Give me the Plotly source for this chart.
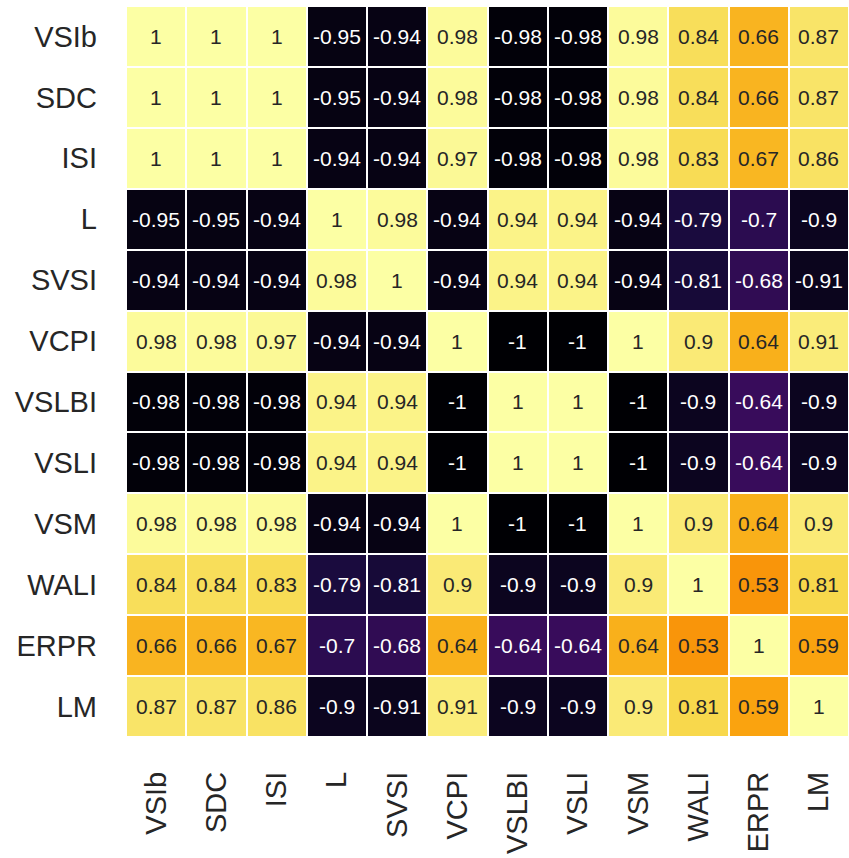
import plotly.graph_objects as go
from plotly.colors import sample_colorscale, unlabel_rgb

labels = ["VSIb", "SDC", "ISI", "L", "SVSI", "VCPI", "VSLBI", "VSLI", "VSM", "WALI", "ERPR", "LM"]

row_VSIb = [1, 1, 1, -0.95, -0.94, 0.98, -0.98, -0.98, 0.98, 0.84, 0.66, 0.87]
row_SDC = [1, 1, 1, -0.95, -0.94, 0.98, -0.98, -0.98, 0.98, 0.84, 0.66, 0.87]
row_ISI = [1, 1, 1, -0.94, -0.94, 0.97, -0.98, -0.98, 0.98, 0.83, 0.67, 0.86]
row_L = [-0.95, -0.95, -0.94, 1, 0.98, -0.94, 0.94, 0.94, -0.94, -0.79, -0.7, -0.9]
row_SVSI = [-0.94, -0.94, -0.94, 0.98, 1, -0.94, 0.94, 0.94, -0.94, -0.81, -0.68, -0.91]
row_VCPI = [0.98, 0.98, 0.97, -0.94, -0.94, 1, -1, -1, 1, 0.9, 0.64, 0.91]
row_VSLBI = [-0.98, -0.98, -0.98, 0.94, 0.94, -1, 1, 1, -1, -0.9, -0.64, -0.9]
row_VSLI = [-0.98, -0.98, -0.98, 0.94, 0.94, -1, 1, 1, -1, -0.9, -0.64, -0.9]
row_VSM = [0.98, 0.98, 0.98, -0.94, -0.94, 1, -1, -1, 1, 0.9, 0.64, 0.9]
row_WALI = [0.84, 0.84, 0.83, -0.79, -0.81, 0.9, -0.9, -0.9, 0.9, 1, 0.53, 0.81]
row_ERPR = [0.66, 0.66, 0.67, -0.7, -0.68, 0.64, -0.64, -0.64, 0.64, 0.53, 1, 0.59]
row_LM = [0.87, 0.87, 0.86, -0.9, -0.91, 0.91, -0.9, -0.9, 0.9, 0.81, 0.59, 1]

corr = [row_VSIb, row_SDC, row_ISI, row_L, row_SVSI, row_VCPI,
        row_VSLBI, row_VSLI, row_VSM, row_WALI, row_ERPR, row_LM]

ZMIN, ZMAX = -1, 1
FONT = "Liberation Sans, Arial, sans-serif"
DARK_TEXT = "#262626"


def text_color(v):
    """White text on dark cells, dark grey on light cells (by luminance)."""
    t = (v - ZMIN) / (ZMAX - ZMIN)
    rgb = sample_colorscale("Inferno", [t])[0]
    r, g, b = [c / 255 for c in unlabel_rgb(rgb)]

    def lin(c):
        return c / 12.92 if c <= 0.03928 else ((c + 0.055) / 1.055) ** 2.4

    lum = 0.2126 * lin(r) + 0.7152 * lin(g) + 0.0722 * lin(b)
    return "white" if lum <= 0.408 else DARK_TEXT


fig = go.Figure(
    go.Heatmap(
        z=corr,
        x=labels,
        y=labels,
        colorscale="Inferno",
        zmin=ZMIN,
        zmax=ZMAX,
        xgap=2,
        ygap=2,
        showscale=False,
        hoverongaps=False,
    )
)

annotations = []
for i, rname in enumerate(labels):
    for j, cname in enumerate(labels):
        v = corr[i][j]
        annotations.append(
            dict(
                x=cname,
                y=rname,
                text=format(v, ".2g"),
                showarrow=False,
                font=dict(family=FONT, size=21, color=text_color(v)),
            )
        )

fig.update_layout(
    width=849,
    height=858,
    margin=dict(l=126, r=0, t=6, b=121),
    paper_bgcolor="white",
    plot_bgcolor="white",
    annotations=annotations,
    font=dict(family=FONT, color=DARK_TEXT),
)
fig.update_xaxes(
    type="category",
    tickangle=-90,
    tickfont=dict(size=29, family=FONT, color=DARK_TEXT),
    ticklabelstandoff=28,
    showgrid=False,
    zeroline=False,
    ticks="",
)
fig.update_yaxes(
    type="category",
    autorange="reversed",
    tickfont=dict(size=29, family=FONT, color=DARK_TEXT),
    ticklabelstandoff=28,
    showgrid=False,
    zeroline=False,
    ticks="",
)

fig.write_html("out.html")
